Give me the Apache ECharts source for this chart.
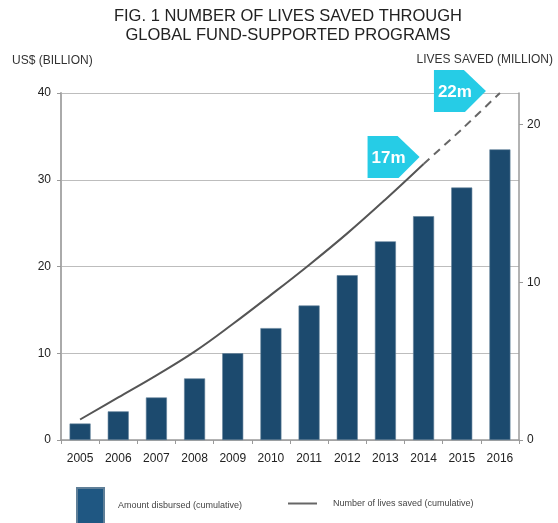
<!DOCTYPE html>
<html>
<head>
<meta charset="utf-8">
<script src="https://cdn.jsdelivr.net/npm/echarts@6/dist/echarts.min.js"></script>
<style>html,body{margin:0;padding:0;background:#fff;}#c{width:558px;height:523px;}</style>
</head>
<body>
<div id="c"></div>
<script>
const years = ['2005','2006','2007','2008','2009','2010','2011','2012','2013','2014','2015','2016'];
const amountDisbursed = [1.9, 3.3, 4.9, 7.1, 10.0, 12.9, 15.5, 19.0, 22.9, 25.8, 29.1, 33.5];
const livesSavedActual = [1.3, 2.7, 4.1, 5.6, 7.35, 9.2, 11.1, 13.1, 15.25, 17.5, null, null];
const livesSavedProjected = [null, null, null, null, null, null, null, null, null, 17.5, 19.7, 22];
const leftTicks = [0, 10, 20, 30, 40];
const rightTicks = [0, 10, 20];
const callouts = [
  {label: '17m', year: '2014', value: 17.5},
  {label: '22m', year: '2016', value: 22}
];

const FONT = "'Liberation Sans', Arial, Helvetica, sans-serif";
const chart = echarts.init(document.getElementById('c'), null, {renderer: 'canvas'});
const flag = 'path://M0,0 L30,0 L52,21 L31,42 L0,42 Z';

chart.setOption({
  animation: false,
  textStyle: {fontFamily: FONT},
  title: [
    {text: 'FIG. 1 NUMBER OF LIVES SAVED THROUGH\nGLOBAL FUND-SUPPORTED PROGRAMS', left: 288, top: 7, textAlign: 'center', padding: 0,
     textStyle: {fontFamily: FONT, fontSize: 16.5, fontWeight: 'normal', color: '#222', lineHeight: 19, align: 'center'}},
    {text: 'US$ (BILLION)', left: 12, top: 55, padding: 0, textStyle: {fontFamily: FONT, fontSize: 12, fontWeight: 'normal', color: '#333'}},
    {text: 'LIVES SAVED (MILLION)', right: 5, top: 54, padding: 0, textStyle: {fontFamily: FONT, fontSize: 12, fontWeight: 'normal', color: '#333'}}
  ],
  grid: {left: 61, right: 39, top: 93, bottom: 83},
  legend: [
    {data: [{name: 'Amount disbursed (cumulative)', itemStyle: {color: '#1f5782'}}], left: 76, top: 487, padding: 0, itemWidth: 27, itemHeight: 36, itemGap: 0,
     icon: 'rect', textStyle: {fontFamily: FONT, fontSize: 9, color: '#444', padding: [0, 0, 0, 9]}, selectedMode: false},
    {data: [{name: 'Number of lives saved (cumulative)', icon: 'rect', itemStyle: {color: '#666'}}], left: 288, top: 499, padding: 0, itemWidth: 29, itemHeight: 2,
     textStyle: {fontFamily: FONT, fontSize: 9, color: '#444', padding: [0, 0, 0, 11]}, selectedMode: false}
  ],
  xAxis: {
    type: 'category', data: years, boundaryGap: true,
    axisLine: {lineStyle: {color: '#9a9a9a', width: 1.5}},
    axisTick: {show: true, length: 4, lineStyle: {color: '#9a9a9a'}},
    axisLabel: {fontSize: 12, color: '#222', margin: 13, fontFamily: FONT}
  },
  yAxis: [
    {type: 'value', min: leftTicks[0], max: leftTicks[leftTicks.length - 1], interval: 10,
     axisLine: {show: true, lineStyle: {color: '#aaa', width: 2}},
     axisTick: {show: true, length: 4, lineStyle: {color: '#999'}},
     splitLine: {show: true, lineStyle: {color: '#bdbdbd', width: 1}},
     axisLabel: {fontSize: 12, color: '#222', margin: 10, fontFamily: FONT}},
    {type: 'value', min: rightTicks[0], max: 22, interval: 10, position: 'right',
     axisLine: {show: true, lineStyle: {color: '#9a9a9a', width: 1.5}},
     axisTick: {show: true, length: 4, lineStyle: {color: '#999'}},
     splitLine: {show: false},
     axisLabel: {fontSize: 12, color: '#222', margin: 8, fontFamily: FONT, showMaxLabel: false,
       formatter: v => rightTicks.indexOf(v) >= 0 ? String(v) : ''}}
  ],
  series: [
    {name: 'Amount disbursed (cumulative)', type: 'bar', data: amountDisbursed, yAxisIndex: 0, barWidth: 21,
     itemStyle: {color: '#1c4a6e', borderColor: '#5f7f98', borderWidth: 0.6}},
    {name: 'Number of lives saved (cumulative)', type: 'line', data: livesSavedActual, yAxisIndex: 1, smooth: 0.4,
     showSymbol: false, symbol: 'none', connectNulls: false,
     lineStyle: {color: '#555', width: 2}, itemStyle: {color: '#555'},
     markPoint: {symbol: flag, symbolSize: [52, 42], symbolOffset: [-30, -7], silent: true,
       itemStyle: {color: '#26cce6'},
       label: {show: true, position: 'inside', offset: [-5, 1], formatter: p => p.name, color: '#fff', fontSize: 17, fontWeight: 'bold', fontFamily: FONT},
       data: [{name: callouts[0].label, coord: [callouts[0].year, callouts[0].value]}]}},
    {name: 'Projected', type: 'line', data: livesSavedProjected, yAxisIndex: 1, smooth: 0.2,
     showSymbol: false, symbol: 'none',
     lineStyle: {color: '#666', width: 2, type: [8, 6]},
     markPoint: {symbol: flag, symbolSize: [52, 42], symbolOffset: [-40, -2], silent: true,
       itemStyle: {color: '#26cce6'},
       label: {show: true, position: 'inside', offset: [-5, 1], formatter: p => p.name, color: '#fff', fontSize: 17, fontWeight: 'bold', fontFamily: FONT},
       data: [{name: callouts[1].label, coord: [callouts[1].year, callouts[1].value]}]}}
  ]
});
</script>
</body>
</html>
